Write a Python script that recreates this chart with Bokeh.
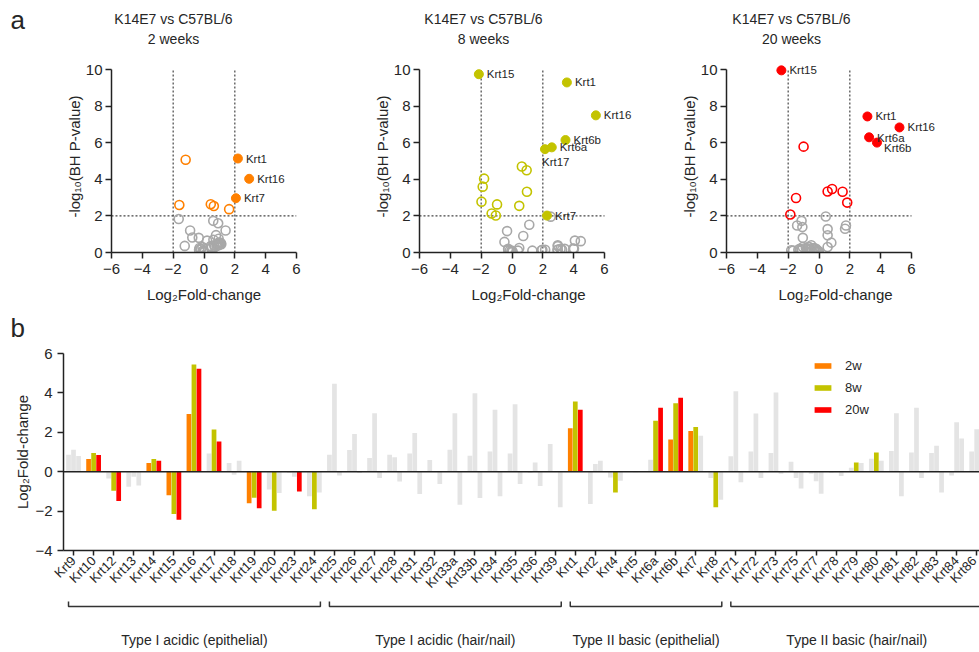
import numpy as np
from bokeh.plotting import figure
from bokeh.models import (ColumnDataSource, Range1d, FixedTicker, Span,
                          Legend, LegendItem)
from bokeh.layouts import column, row
from bokeh.embed import file_html
from bokeh.resources import INLINE
from bokeh.core.properties import value

FONT = "Liberation Sans"
TXT = "#262626"
AX = "#222222"
GREY_BAR = "#e4e4e4"
GREY_PT = "#a8a8a8"

# ---------------- data ----------------
genes = ["Krt9", "Krt10", "Krt12", "Krt13", "Krt14", "Krt15", "Krt16", "Krt17", "Krt18",
         "Krt19", "Krt20", "Krt23", "Krt24",
         "Krt25", "Krt26", "Krt27", "Krt28", "Krt31", "Krt32", "Krt33a", "Krt33b", "Krt34",
         "Krt35", "Krt36", "Krt39",
         "Krt1", "Krt2", "Krt4", "Krt5", "Krt6a", "Krt6b", "Krt7", "Krt8",
         "Krt71", "Krt72", "Krt73", "Krt75", "Krt77", "Krt78", "Krt79", "Krt80", "Krt81",
         "Krt82", "Krt83", "Krt84", "Krt86"]

group_names = ["Type I acidic (epithelial)", "Type I acidic (hair/nail)",
               "Type II basic (epithelial)", "Type II basic (hair/nail)"]
group_first = ["Krt9", "Krt25", "Krt1", "Krt71"]
group_last = ["Krt24", "Krt39", "Krt8", "Krt86"]

timepoints = ["2w", "8w", "20w"]
week_titles = ["2 weeks", "8 weeks", "20 weeks"]
comparison = "K14E7 vs C57BL/6"
colors = ["#ff8000", "#c3c300", "#ff0000"]

# log2 fold-change
fc_2w = [0.86, 0.64, -0.34, -0.76, 0.44, -1.19, 2.93, 0.92, 0.44, -1.60, -0.90, -0.05, -1.25,
         0.86, 1.10, 0.70, 0.86, 0.93, 0.60, 1.12, 0.81, 1.03, 0.93, -0.05, 1.40,
         2.20, -1.64, -0.29, 0.02, 0.61, 1.63, 2.07, -0.32,
         0.78, 1.03, 0.95, 0.51, -0.10, -0.05, 0.20, 0.66, 1.05, 0.98, 0.95, -0.19, 1.03]
fc_8w = [1.12, 0.95, -0.97, -0.25, 0.64, -2.15, 5.44, 2.14, -0.15, -1.32, -1.98, -0.25, -1.90,
         4.46, 1.92, 2.97, 0.73, 1.97, 0.02, 2.97, 3.98, 3.15, 3.42, 0.47, 0.03,
         3.56, 0.39, -1.05, -0.03, 2.58, 3.47, 2.27, -1.81,
         4.08, 2.95, 4.02, -0.32, -0.49, -0.03, 0.47, 0.97, 2.97, 3.25, 1.32, 2.51, 2.15]
fc_20w = [0.80, 0.85, -1.49, -0.70, 0.56, -2.44, 5.22, 1.53, 0.56, -1.86, -1.08, -1.00, -1.05,
          -0.19, -0.07, -0.32, -0.50, -1.13, -0.63, -1.68, -1.34, -1.25, -0.63, -0.73, -1.80,
          3.14, 0.56, -0.46, 0.00, 3.25, 3.76, 1.83, -1.42,
          -0.54, -0.32, -0.10, -0.85, -1.12, -0.22, 0.44, 0.56, -1.25, -0.32, -1.05, 1.69, 1.75]

# -log10(BH P-value)
nlp_2w = [0.45, 2.54, 0.80, 0.82, 2.64, 5.07, 4.03, 1.60, 0.35, 2.60, 1.20, 0.05, 0.36,
          0.40, 0.50, 0.30, 0.45, 0.50, 1.73, 0.45, 0.35, 0.55, 0.40, 0.10, 1.20,
          5.14, 1.83, 0.25, 0.02, 0.70, 2.37, 2.97, 0.15,
          0.95, 0.45, 0.50, 0.30, 0.30, 0.10, 0.65, 0.40, 0.50, 0.55, 0.75, 0.20, 0.45]
nlp_8w = [1.52, 4.50, 2.63, 0.15, 4.70, 9.75, 7.50, 5.65, 0.10, 2.13, 2.78, 0.20, 3.60,
          0.62, 0.12, 0.40, 0.90, 0.15, 0.05, 0.15, 0.22, 0.20, 0.20, 0.25, 0.05,
          9.30, 0.10, 2.02, 0.05, 5.75, 6.15, 2.02, 4.04,
          0.65, 0.15, 0.20, 1.17, 0.58, 0.10, 2.55, 3.32, 0.35, 0.15, 0.10, 1.96, 0.15]
nlp_20w = [0.54, 3.47, 2.98, 0.30, 3.34, 9.96, 6.84, 3.32, 1.28, 2.08, 1.39, 5.79, 0.80,
           0.20, 0.10, 0.25, 0.40, 1.73, 0.30, 0.10, 0.15, 0.20, 0.15, 0.20, 0.12,
           7.44, 0.30, 0.10, 0.05, 6.30, 6.01, 2.73, 1.48,
           0.15, 0.10, 0.05, 0.25, 0.15, 0.10, 1.97, 0.94, 0.10, 0.20, 0.30, 1.30, 1.48]

# genes drawn in colour in the bar chart
hi_2w = ["Krt10", "Krt14", "Krt15", "Krt16", "Krt19", "Krt1", "Krt6b", "Krt7"]
hi_8w = ["Krt10", "Krt12", "Krt14", "Krt15", "Krt16", "Krt17", "Krt19", "Krt20", "Krt24",
         "Krt1", "Krt4", "Krt6a", "Krt6b", "Krt7", "Krt8", "Krt79", "Krt80"]
hi_20w = ["Krt10", "Krt12", "Krt14", "Krt15", "Krt16", "Krt17", "Krt19", "Krt23",
          "Krt1", "Krt6a", "Krt6b"]

vol_x_ticks = [-6, -4, -2, 0, 2, 4, 6]
vol_y_ticks = [0, 2, 4, 6, 8, 10]
bar_y_ticks = [-4, -2, 0, 2, 4, 6]
fc_cut = 2
p_cut = 2

fcs = [fc_2w, fc_8w, fc_20w]
nlps = [nlp_2w, nlp_8w, nlp_20w]
his = [hi_2w, hi_8w, hi_20w]

# label placement tweaks (screen px; +y = down for text glyph offsets)
label_shift = {("8w", "Krt17"): (-3, 13), ("20w", "Krt6b"): (7, 5), ("20w", "Krt6a"): (8, 1)}


def style_axis(ax, label_size="15px"):
    ax.axis_line_color = AX
    ax.axis_line_width = 1.5
    ax.major_tick_line_color = AX
    ax.major_tick_line_width = 1.5
    ax.major_tick_out = 6
    ax.major_tick_in = 0
    ax.minor_tick_line_color = None
    ax.major_label_text_font = FONT
    ax.major_label_text_font_size = label_size
    ax.major_label_text_color = TXT
    ax.axis_label_text_font = FONT
    ax.axis_label_text_font_size = "15px"
    ax.axis_label_text_font_style = "normal"
    ax.axis_label_text_color = TXT


def bare(width, height, xr, yr):
    p = figure(width=width, height=height, x_range=xr, y_range=yr, min_border=0,
               x_axis_location=None, y_axis_location=None, output_backend="svg",
               toolbar_location=None, title=None)
    p.outline_line_color = None
    p.xgrid.visible = False
    p.ygrid.visible = False
    return p


# ---------------- header (panel a + titles) ----------------
HDR_H = 60
hdr = bare(979, HDR_H, Range1d(0, 979), Range1d(0, HDR_H))
hdr.text(x=[10], y=[HDR_H - 19], text=["a"], text_font=value(FONT), text_font_size="26px",
         text_color=TXT, text_baseline="alphabetic")
title_cx = [173, 483, 791]
hdr.text(x=title_cx, y=[HDR_H - 18] * 3, text=[comparison] * 3, text_font=value(FONT),
         text_font_size="14px", text_align="center", text_baseline="middle", text_color=TXT)
hdr.text(x=title_cx, y=[HDR_H - 38] * 3, text=week_titles, text_font=value(FONT),
         text_font_size="14px", text_align="center", text_baseline="middle", text_color=TXT)

# ---------------- volcano plots ----------------
PX_PER_UNIT = 185 / 12.0
vol_specs = [  # (left border, frame width, right border)
    (111, 185, 12),
    (111, 218, 0),
    (89, 218, 0),
]


def volcano(i):
    tp = timepoints[i]
    lb, fw, rb = vol_specs[i]
    x_end = -6 + fw / PX_PER_UNIT
    p = figure(width=lb + fw + rb, height=245, x_range=Range1d(-6, x_end),
               y_range=Range1d(0, 10.5),
               min_border_left=lb, min_border_right=rb, min_border_top=0,
               min_border_bottom=51, output_backend="svg", toolbar_location=None,
               title=None)
    p.outline_line_color = None
    p.xgrid.visible = False
    p.ygrid.visible = False
    p.xaxis.ticker = FixedTicker(ticks=vol_x_ticks)
    p.yaxis.ticker = FixedTicker(ticks=vol_y_ticks)
    p.xaxis.bounds = (vol_x_ticks[0], vol_x_ticks[-1])
    p.yaxis.bounds = (vol_y_ticks[0], vol_y_ticks[-1])
    p.xaxis.axis_label = "Log\u2082Fold-change"
    p.yaxis.axis_label = "-log\u2081\u2080(BH P-value)"
    style_axis(p.xaxis[0])
    style_axis(p.yaxis[0])
    p.yaxis.major_label_standoff = 3
    p.yaxis.axis_label_standoff = 0
    p.xaxis.axis_label_standoff = 9

    # threshold lines
    p.segment(x0=[-fc_cut, fc_cut, vol_x_ticks[0]], x1=[-fc_cut, fc_cut, vol_x_ticks[-1]],
              y0=[vol_y_ticks[0], vol_y_ticks[0], p_cut],
              y1=[vol_y_ticks[-1], vol_y_ticks[-1], p_cut],
              line_color="#444444", line_width=1.2, line_dash="2 2")

    fc = np.array(fcs[i])
    nlp = np.array(nlps[i])
    sig = nlp >= p_cut
    filled = sig & (np.abs(fc) >= fc_cut)
    grey = ~sig
    opened = sig & ~filled
    c = colors[i]
    p.scatter(fc[grey], nlp[grey], size=9, fill_color=None, line_color=GREY_PT, line_width=1.6)
    p.scatter(fc[opened], nlp[opened], size=9, fill_color=None, line_color=c, line_width=1.6)
    p.scatter(fc[filled], nlp[filled], size=9, fill_color=c, line_color=c, line_width=1)

    names = [g for g, f in zip(genes, filled) if f]
    dx = [label_shift.get((tp, g), (8, 0))[0] for g in names]
    dy = [label_shift.get((tp, g), (8, 0))[1] for g in names]
    src = ColumnDataSource(dict(x=fc[filled], y=nlp[filled], t=names, dx=dx, dy=dy))
    p.text(x="x", y="y", text="t", x_offset="dx", y_offset="dy", source=src,
           text_font=value(FONT), text_font_size="11.5px", text_baseline="middle",
           text_align="left", text_color=TXT)
    return p


v1 = volcano(0)
v2 = volcano(1)
v3 = volcano(2)

# ---------------- panel b label strip ----------------
B_H = 40
hb = bare(979, B_H, Range1d(0, 979), Range1d(0, B_H))
hb.text(x=[10], y=[18], text=["b"], text_font=value(FONT), text_font_size="26px",
        text_color=TXT, text_baseline="alphabetic")

# ---------------- bar chart ----------------
n = len(genes)
xr = Range1d(-0.5, -0.5 + 916 / 20.07)
pb = figure(width=979, height=255, x_range=xr, y_range=Range1d(-4, 6),
            min_border_left=63, min_border_right=0, min_border_top=8, min_border_bottom=50,
            output_backend="svg", toolbar_location=None, title=None)
pb.outline_line_color = None
pb.xgrid.visible = False
pb.ygrid.visible = False
pb.yaxis.ticker = FixedTicker(ticks=bar_y_ticks)
pb.yaxis.axis_label = "Log\u2082Fold-change"
pb.xaxis.ticker = FixedTicker(ticks=list(range(n)))
pb.xaxis.major_label_overrides = {i: g for i, g in enumerate(genes)}
pb.xaxis.major_label_orientation = np.pi / 4
style_axis(pb.xaxis[0], "13px")
style_axis(pb.yaxis[0])
pb.xaxis.major_tick_out = 5
pb.yaxis.axis_label_standoff = 1
pb.xaxis.major_label_standoff = 3

idx = np.arange(n)
offsets = [-0.25, 0.0, 0.25]
legend_items = []
for i in range(3):
    fc = np.array(fcs[i])
    hl = np.array([g in his[i] for g in genes])
    x = idx + offsets[i]
    pb.vbar(x=x[~hl], top=fc[~hl], bottom=0, width=0.235, fill_color=GREY_BAR, line_color=None)
    r = pb.vbar(x=x[hl], top=fc[hl], bottom=0, width=0.235, fill_color=colors[i], line_color=None)
    legend_items.append(LegendItem(label=timepoints[i], renderers=[r]))

pb.add_layout(Span(location=0, dimension="width", line_color=AX, line_width=1.5))
leg = Legend(items=legend_items, location=(749, 133), border_line_color=None,
             background_fill_alpha=0, glyph_width=21, glyph_height=7, label_height=7,
             spacing=7, padding=0, margin=0, label_standoff=12,
             label_text_font=FONT, label_text_font_size="13px", label_text_color=TXT)
pb.add_layout(leg, "center")

# ---------------- brackets ----------------
G_H = 52
pg = bare(979, G_H, xr, Range1d(0, 1))
pg.min_border_left = 63
bx, by, tx = [], [], []
for name, a, b in zip(group_names, group_first, group_last):
    i0 = genes.index(a) - 0.25
    i1 = genes.index(b) + 0.3
    bx.append([i0, i0, i1, i1])
    by.append([0.98, 0.885, 0.885, 0.98])
    tx.append((i0 + i1) / 2)
pg.multi_line(xs=bx, ys=by, line_color="#333333", line_width=1.5)
pg.text(x=tx, y=[0.25] * len(tx), text=group_names, text_font=value(FONT),
        text_font_size="14px", text_align="center", text_baseline="middle", text_color=TXT)

layout = column(row(hdr), row(v1, v2, v3), row(hb), pb, pg)
open("out.html", "w").write(file_html(layout, INLINE))
